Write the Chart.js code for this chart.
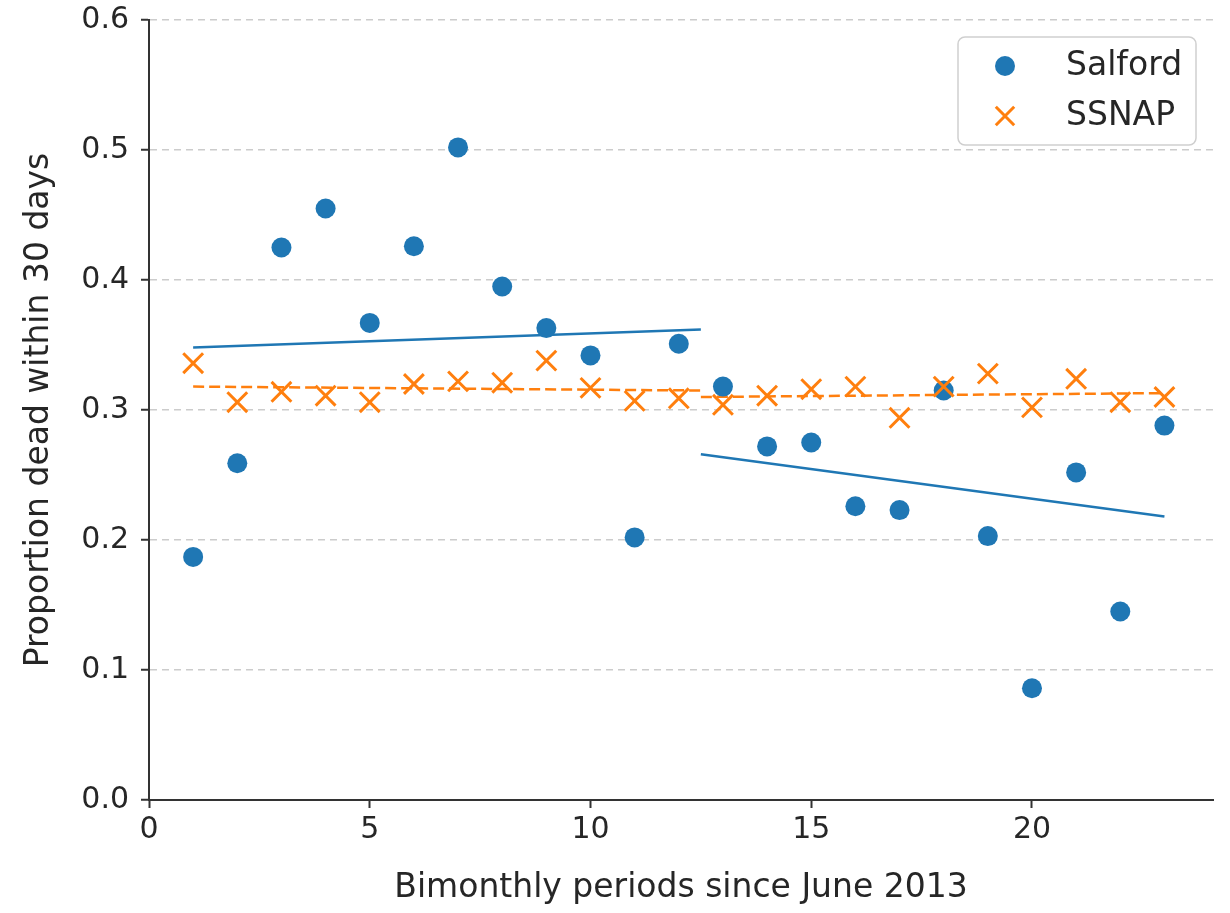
<!DOCTYPE html>
<html>
<head>
<meta charset="utf-8">
<script src="https://cdn.jsdelivr.net/npm/chart.js@4.4.0/dist/chart.umd.min.js"></script>
<style>
  html, body { margin: 0; padding: 0; background: #fff; }
  #wrap { width: 1230px; height: 913px; }
</style>
</head>
<body>
<div id="wrap"><canvas id="chart" width="1230" height="913"></canvas></div>
<script>
// Periodos bimestrales (eje x)
const periods = [1, 2, 3, 4, 5, 6, 7, 8, 9, 10, 11, 12, 13, 14, 15, 16, 17, 18, 19, 20, 21, 22, 23];

// Proporción de fallecidos a 30 días
const salford = [0.187, 0.259, 0.425, 0.455, 0.367, 0.426, 0.502, 0.395, 0.363, 0.342, 0.202, 0.351,
                 0.318, 0.272, 0.275, 0.226, 0.223, 0.315, 0.203, 0.086, 0.252, 0.145, 0.288];
const ssnap   = [0.336, 0.306, 0.314, 0.311, 0.306, 0.320, 0.322, 0.321, 0.338, 0.317, 0.307, 0.309,
                 0.304, 0.311, 0.316, 0.318, 0.294, 0.318, 0.328, 0.302, 0.324, 0.306, 0.310];

// Rectas de tendencia (antes / después del corte)
const trendX1 = [1, 12.5];
const trendX2 = [12.5, 23];
const salfordTrend1 = [0.348, 0.362];
const salfordTrend2 = [0.266, 0.218];
const ssnapTrend1 = [0.318, 0.315];
const ssnapTrend2 = [0.310, 0.313];

// Ticks
const xTicks = [0, 5, 10, 15, 20];
const yTicks = [0, 0.1, 0.2, 0.3, 0.4, 0.5, 0.6];

const BLUE = '#1f77b4';
const ORANGE = '#ff7f0e';
const INK = '#262626';
const AXIS = '#333333';

const pts = (xs, ys) => xs.map((x, i) => ({ x, y: ys[i] }));

Chart.defaults.font.family = "'DejaVu Sans', sans-serif";
Chart.defaults.color = INK;

/* --------- Leyenda con marco (estilo matplotlib) --------- */
function roundedRect(ctx, x, y, w, h, r){
  ctx.beginPath();
  ctx.moveTo(x + r, y);
  ctx.lineTo(x + w - r, y);
  ctx.arcTo(x + w, y, x + w, y + r, r);
  ctx.lineTo(x + w, y + h - r);
  ctx.arcTo(x + w, y + h, x + w - r, y + h, r);
  ctx.lineTo(x + r, y + h);
  ctx.arcTo(x, y + h, x, y + h - r, r);
  ctx.lineTo(x, y + r);
  ctx.arcTo(x, y, x + r, y, r);
  ctx.closePath();
}

const boxLegend = {
  id: 'boxLegend',
  afterDatasetsDraw(chart){
    const ctx = chart.ctx;
    const area = chart.chartArea;
    const w = 238, h = 108;
    const left = area.right - 17 - w;
    const top = area.top + 17;
    ctx.save();
    roundedRect(ctx, left, top, w, h, 7);
    ctx.fillStyle = 'rgba(255,255,255,0.85)';
    ctx.fill();
    ctx.lineWidth = 1.5;
    ctx.strokeStyle = '#cfcfcf';
    ctx.stroke();

    const entries = chart.data.datasets
      .filter(d => d.legendPos !== undefined)
      .sort((a, b) => a.legendPos - b.legendPos);
    entries.forEach((d, i) => {
      const cy = top + 29 + i * 50;
      ctx.fillStyle = d.backgroundColor;
      ctx.strokeStyle = d.borderColor;
      ctx.lineWidth = d.pointBorderWidth;
      Chart.helpers.drawPoint(ctx, {
        pointStyle: d.pointStyle,
        radius: d.legendRadius,
        borderWidth: d.pointBorderWidth,
        rotation: 0
      }, left + 47, cy);
      ctx.fillStyle = INK;
      ctx.font = "33px 'DejaVu Sans'";
      ctx.textBaseline = 'middle';
      ctx.textAlign = 'left';
      ctx.fillText(d.label, left + 108, cy);
    });
    ctx.restore();
  }
};

const ctx = document.getElementById('chart').getContext('2d');
new Chart(ctx, {
  type: 'scatter',
  data: {
    datasets: [
      {
        label: 'SSNAP', legendPos: 1, order: 0,
        data: pts(periods, ssnap),
        pointStyle: 'crossRot', pointRadius: 14, legendRadius: 13,
        pointBorderWidth: 3, borderWidth: 3,
        borderColor: ORANGE, backgroundColor: ORANGE
      },
      {
        label: 'Salford', legendPos: 0, order: 1,
        data: pts(periods, salford),
        pointStyle: 'circle', pointRadius: 10, legendRadius: 10,
        pointBorderWidth: 0, borderWidth: 0,
        borderColor: BLUE, backgroundColor: BLUE
      },
      {
        label: 'Salford tendencia 1', order: 2, showLine: true,
        data: pts(trendX1, salfordTrend1),
        pointRadius: 0, borderColor: BLUE, borderWidth: 2.5
      },
      {
        label: 'Salford tendencia 2', order: 2, showLine: true,
        data: pts(trendX2, salfordTrend2),
        pointRadius: 0, borderColor: BLUE, borderWidth: 2.5
      },
      {
        label: 'SSNAP tendencia 1', order: 2, showLine: true,
        data: pts(trendX1, ssnapTrend1),
        pointRadius: 0, borderColor: ORANGE, borderWidth: 2.5, borderDash: [11, 5]
      },
      {
        label: 'SSNAP tendencia 2', order: 2, showLine: true,
        data: pts(trendX2, ssnapTrend2),
        pointRadius: 0, borderColor: ORANGE, borderWidth: 2.5, borderDash: [11, 5]
      }
    ]
  },
  options: {
    responsive: false,
    animation: false,
    devicePixelRatio: 1,
    layout: { padding: { left: 0, top: 20, right: 15, bottom: 0 } },
    plugins: {
      legend: { display: false },
      tooltip: { enabled: false }
    },
    scales: {
      x: {
        type: 'linear', min: 0, max: 24.1,
        afterBuildTicks: (s) => { s.ticks = xTicks.map(v => ({ value: v })); },
        afterFit: (s) => { s.height = 113; s.paddingLeft = 0; s.paddingRight = 0; },
        ticks: { padding: 4, font: { size: 30 }, color: INK },
        grid: { drawOnChartArea: false, tickLength: 8, tickColor: AXIS, tickWidth: 2 },
        border: { color: AXIS, width: 2 },
        title: {
          display: true, text: 'Bimonthly periods since June 2013',
          font: { size: 33 }, color: INK, padding: { top: 0, bottom: 5 }
        }
      },
      y: {
        min: 0, max: 0.6,
        afterBuildTicks: (s) => { s.ticks = yTicks.map(v => ({ value: v })); },
        afterFit: (s) => { s.width = 149; s.paddingTop = 0; s.paddingBottom = 0; },
        ticks: { padding: 12, font: { size: 30 }, color: INK, callback: v => Number(v).toFixed(1) },
        grid: { color: '#cccccc', lineWidth: 1.5, tickLength: 8, tickColor: AXIS, tickWidth: 2 },
        border: { color: AXIS, width: 2, dash: [7, 5] },
        title: {
          display: true, text: 'Proportion dead within 30 days',
          font: { size: 33 }, color: INK, padding: { top: 20, bottom: 0 }
        }
      }
    }
  },
  plugins: [boxLegend]
});
</script>
</body>
</html>
